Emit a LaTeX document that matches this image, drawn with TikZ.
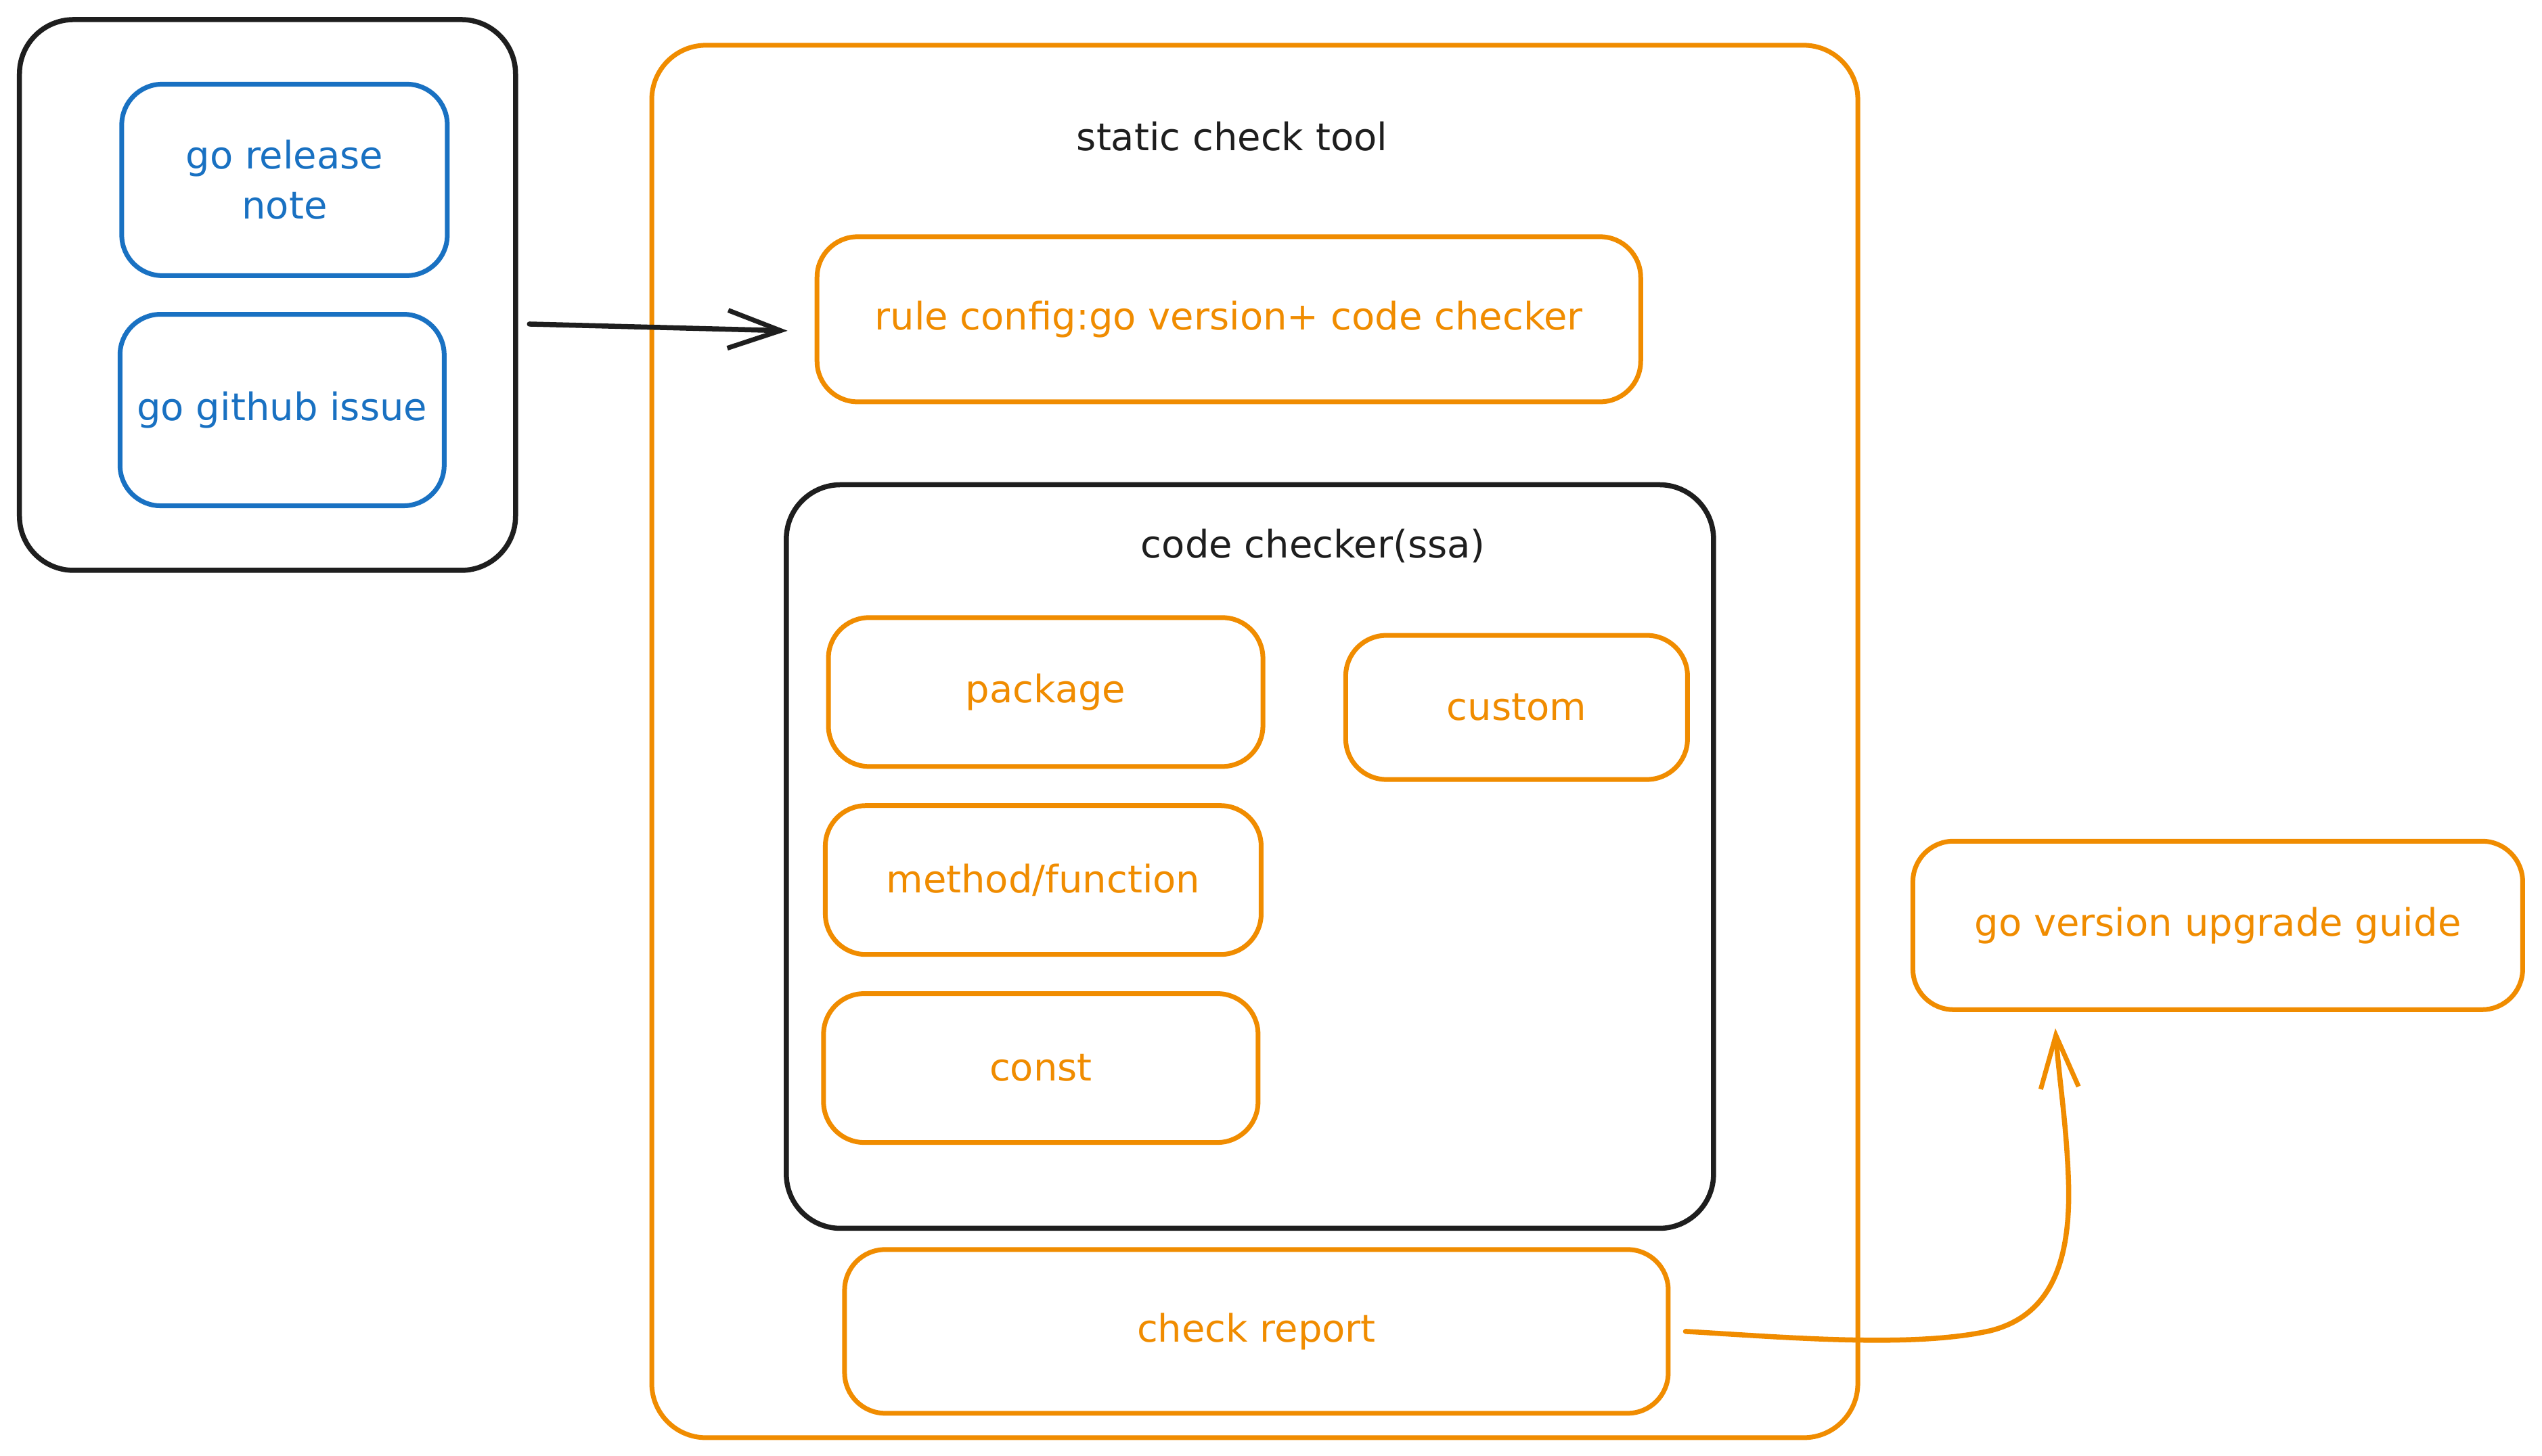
\documentclass[tikz,border=0pt]{standalone}
\usepackage{fontspec}
\setmainfont{DejaVu Sans}
\usetikzlibrary{arrows.meta,calc}
\definecolor{exorange}{HTML}{F08C00}
\definecolor{exblue}{HTML}{1971C2}
\definecolor{exblack}{HTML}{1E1E1E}
\begin{document}
\begin{tikzpicture}[x=2.3954pt,y=-2.3954pt,
  every node/.style={font=\fontsize{56}{74}\selectfont},
  obox/.style={draw=exorange,line width=7pt,rounded corners=60pt,text=exorange,align=center,inner sep=0pt},
  bbox/.style={draw=exblue,line width=7pt,rounded corners=60pt,text=exblue,align=center,inner sep=0pt},
  kbox/.style={draw=exblack,line width=7.5pt,rounded corners=80pt,inner sep=0pt},
  bigbox/.style={draw=exorange,line width=7pt,rounded corners=80pt,inner sep=0pt},
  lbl/.style={text=exblack},
  barb/.style={-{Straight Barb[length=78pt,width=56pt,line width=7pt]},line width=7.5pt,line cap=round}
]
\useasboundingbox[fill=white] (0,0) rectangle (1568,898);

% left group
\node[kbox,minimum width=733pt,minimum height=814pt] (left) at (165,182) {};
\node[bbox,minimum width=481pt,minimum height=283pt] (release) at (175.5,111) {go release\\note};
\node[bbox,minimum width=479pt,minimum height=283pt] (github) at (174,253) {go github issue};

% static check tool
\node[bigbox,minimum width=1782pt,minimum height=2058pt] (tool) at (774,457.5) {};
\node[lbl] (tooltitle) at (760,84) {static check tool};
\node[obox,minimum width=1217pt,minimum height=244pt] (rule) at (758,197) {rule config:go version+ code checker};

\node[kbox,minimum width=1370pt,minimum height=1099pt] (code) at (771,528.5) {};
\node[lbl] (codetitle) at (810,337) {code checker(ssa)};
\node[obox,minimum width=642pt,minimum height=220pt] (package) at (645,427) {package};
\node[obox,minimum width=505pt,minimum height=213pt] (custom) at (935.5,436.5) {custom};
\node[obox,minimum width=644pt,minimum height=220pt] (method) at (643.5,543) {method/function};
\node[obox,minimum width=642pt,minimum height=220pt] (const) at (642,659) {const};

\node[obox,minimum width=1217pt,minimum height=242pt] (report) at (775,821.5) {check report};

\node[obox,minimum width=901pt,minimum height=249pt] (guide) at (1368,571) {go version upgrade guide};

% connectors
\draw[barb,draw=exblack] ([yshift=-43pt]left.east) ++(7,0) coordinate (a1s)
  (a1s) -- ([yshift=-17pt,xshift=-40pt]rule.west);
\coordinate (gend) at ([xshift=-240pt,yshift=-24pt]guide.south);
\draw[barb,draw=exorange] ([xshift=22pt]report.east) .. controls (1100,825) and (1180,832) .. (1228,821)
  .. controls (1263,812) and (1277,782) .. (1276,732)
  .. controls (1275,695) and (1270,665) .. (gend);
\end{tikzpicture}
\end{document}
